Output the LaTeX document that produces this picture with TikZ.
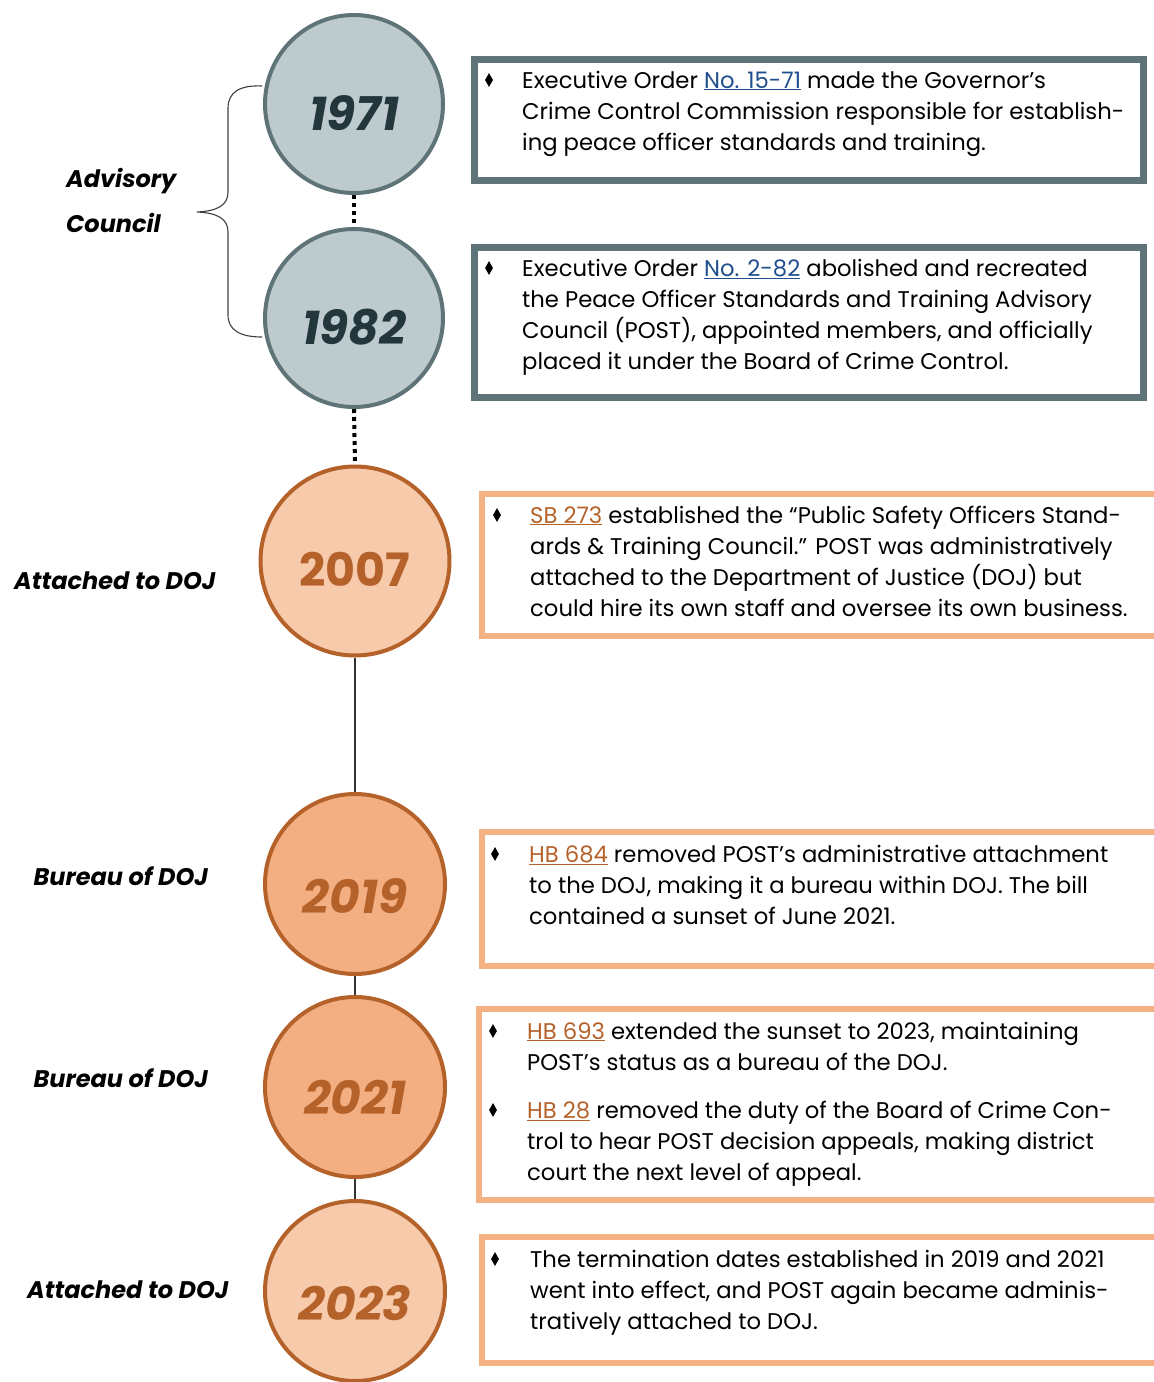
\documentclass[tikz,border=0pt]{standalone}
\usepackage{fontspec}
\setmainfont{Poppins}
\usetikzlibrary{shapes.geometric}
\definecolor{greyfill}{HTML}{BDCBCE}
\definecolor{greyline}{HTML}{5F7478}
\definecolor{greytext}{HTML}{22363C}
\definecolor{peach}{HTML}{F7CAAC}
\definecolor{peachmid}{HTML}{F3AF82}
\definecolor{rust}{HTML}{B5612A}
\definecolor{linkblue}{HTML}{1F4E8C}
\definecolor{boxorange}{HTML}{F4B183}
\newcommand\yrfont{\fontsize{47}{47}\selectfont\bfseries\itshape}
\newcommand\yrfontup{\fontsize{46}{46}\selectfont\bfseries}
\newcommand\lblfont{\fontsize{24}{30}\selectfont\bfseries\itshape}
\newcommand\bodyfont{\fontsize{22.7}{31}\selectfont}
\newcommand\lnk[2]{\textcolor{#1}{\underline{#2}}}
\begin{document}
\begin{tikzpicture}[x=1pt,y=-1pt,
  greycirc/.style={circle, draw=greyline, fill=greyfill, line width=4pt, minimum size=178pt, inner sep=0pt},
  orcirc/.style={circle, draw=rust, line width=4pt, minimum size=180pt, inner sep=0pt},
  yrg/.style={text=greytext, font=\yrfont, inner sep=0pt},
  yro/.style={text=rust, font=\yrfont, inner sep=0pt},
  greybox/.style={draw=greyline, line width=6.5pt, anchor=north west, inner sep=0pt},
  orbox/.style={draw=boxorange, line width=6pt, anchor=north west, inner sep=0pt},
  bodytext/.style={anchor=base west, inner sep=0pt, font=\bodyfont},
  bullet/.style={diamond, fill=black, inner sep=0pt, minimum width=8pt, minimum height=14pt},
  sidelbl/.style={anchor=base, inner sep=0pt, font=\lblfont},
  dotline/.style={line width=4pt, dash pattern=on 4pt off 4pt, black},
  thinline/.style={line width=1.1pt, black!80}
]
\useasboundingbox (0,0) rectangle (1154,1382);

% boxes
\node[greybox, minimum width=669pt, minimum height=121pt] (b1) at (471,56) {};
\node[greybox, minimum width=669pt, minimum height=150pt] (b2) at (471,244) {};
\node[orbox, minimum width=691pt, minimum height=142pt] (b3) at (479,491) {};
\node[orbox, minimum width=691pt, minimum height=134pt] (b4) at (479,829) {};
\node[orbox, minimum width=694pt, minimum height=191pt] (b5) at (476,1006) {};
\node[orbox, minimum width=691pt, minimum height=126pt] (b6) at (479,1234) {};

% circles
\node[greycirc, label={[yrg, yshift=-9pt]center:1971}] (c1971) at (354,104) {};
\node[greycirc, label={[yrg, yshift=-9pt]center:1982}] (c1982) at (354,318) {};
\node[orcirc, fill=peach, minimum size=189pt, label={[yro, font=\yrfontup, yshift=-8pt]center:2007}] (c2007) at (355,561) {};
\node[orcirc, fill=peachmid, label={[yro, yshift=-12pt]center:2019}] (c2019) at (355,884) {};
\node[orcirc, fill=peachmid, label={[yro, yshift=-10pt]center:2021}] (c2021) at (355,1087) {};
\node[orcirc, fill=peach, label={[yro, yshift=-12pt]center:2023}] (c2023) at (355,1291) {};

% connectors
\draw[dotline] (c1971.south) -- (c1982.north);
\draw[dotline] (c1982.south) -- (c2007.north);
\draw[thinline] (c2007.south) -- (c2019.north);
\draw[thinline] (c2019.south) -- (c2021.north);
\draw[thinline] (c2021.south) -- (c2023.north);

% brace
\coordinate (brtop) at (262,86);
\coordinate (brbot) at (262,337);
\coordinate (brtip) at (197,212);
\draw[line width=1.1pt, black!75]
  (brtop) .. controls (240,85) and (228,92) .. (228,108) -- (228,192)
  .. controls (228,205) and (218,211) .. (brtip)
  .. controls (218,213) and (228,219) .. (228,232) -- (228,315)
  .. controls (228,330) and (240,337) .. (brbot);

% side labels
\node[anchor=base west, inner sep=0pt, font=\lblfont] (advis) at (66,187) {Advisory};
\node[anchor=base west, inner sep=0pt, font=\lblfont] (counc) at (66,232) {Council};
\node[sidelbl] (l2007) at (115,589) {Attached to DOJ};
\node[sidelbl] (l2019) at (121,885) {Bureau of DOJ};
\node[sidelbl] (l2021) at (121,1087) {Bureau of DOJ};
\node[sidelbl] (l2023) at (128,1298) {Attached to DOJ};

% bullets
\node[bullet] (d1) at (489,80) {};
\node[bullet] (d2) at (489,268) {};
\node[bullet] (d3) at (497,515) {};
\node[bullet] (d4) at (495,854) {};
\node[bullet] (d5) at (493,1031) {};
\node[bullet] (d6) at (493,1110) {};
\node[bullet] (d7) at (495,1259) {};

% texts
\node[bodytext] (t1) at (522,88) {\parbox[t]{640pt}{\bodyfont
Executive Order \lnk{linkblue}{No. 15-71} made the Governor's\\
Crime Control Commission responsible for establish-\\
ing peace officer standards and training.}};
\node[bodytext] (t2) at (522,276) {\parbox[t]{640pt}{\bodyfont
Executive Order \lnk{linkblue}{No. 2-82} abolished and recreated\\
the Peace Officer Standards and Training Advisory\\
Council (POST), appointed members, and officially\\
placed it under the Board of Crime Control.}};
\node[bodytext] (t3) at (530,523) {\parbox[t]{640pt}{\bodyfont
\lnk{rust}{SB 273} established the ``Public Safety Officers Stand-\\
ards \& Training Council.'' POST was administratively\\
attached to the Department of Justice (DOJ) but\\
could hire its own staff and oversee its own business.}};
\node[bodytext] (t4) at (529,862) {\parbox[t]{640pt}{\bodyfont
\lnk{rust}{HB 684} removed POST's administrative attachment\\
to the DOJ, making it a bureau within DOJ. The bill\\
contained a sunset of June 2021.}};
\node[bodytext] (t5) at (527,1039) {\parbox[t]{640pt}{\bodyfont
\lnk{rust}{HB 693} extended the sunset to 2023, maintaining\\
POST's status as a bureau of the DOJ.}};
\node[bodytext] (t6) at (527,1118) {\parbox[t]{640pt}{\bodyfont
\lnk{rust}{HB 28} removed the duty of the Board of Crime Con-\\
trol to hear POST decision appeals, making district\\
court the next level of appeal.}};
\node[bodytext] (t7) at (530,1267) {\parbox[t]{640pt}{\bodyfont
The termination dates established in 2019 and 2021\\
went into effect, and POST again became adminis-\\
tratively attached to DOJ.}};
\end{tikzpicture}
\end{document}
